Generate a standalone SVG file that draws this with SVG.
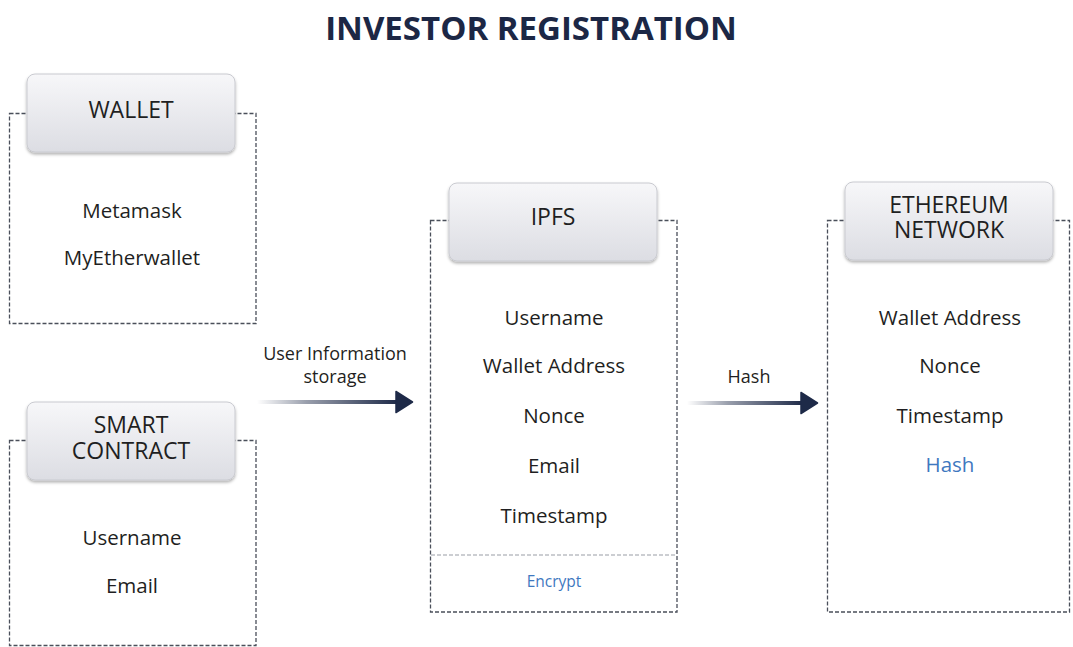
<svg xmlns="http://www.w3.org/2000/svg" width="1073" height="647" viewBox="0 0 1073 647">
  <defs>
    <linearGradient id="hdrGrad" x1="0" y1="0" x2="0" y2="1">
      <stop offset="0" stop-color="#f7f7f9"/>
      <stop offset="1" stop-color="#dcdde3"/>
    </linearGradient>
    <linearGradient id="arrGrad" x1="0" y1="0" x2="1" y2="0">
      <stop offset="0" stop-color="#1e2a48" stop-opacity="0"/>
      <stop offset="0.35" stop-color="#1e2a48" stop-opacity="0.45"/>
      <stop offset="1" stop-color="#1e2a48" stop-opacity="1"/>
    </linearGradient>
    <filter id="shadow" x="-10%" y="-10%" width="120%" height="130%">
      <feDropShadow dx="0" dy="2" stdDeviation="1.5" flood-color="#000" flood-opacity="0.3"/>
    </filter>
  </defs>
  <style>
    .frame { fill: #ffffff; stroke: #4a4f5a; stroke-width: 1.3; stroke-dasharray: 4 2; }
    .sep { fill: none; stroke: #9a9ea6; stroke-width: 1.2; stroke-dasharray: 4 2; }
    .hdr { fill: url(#hdrGrad); stroke: #c9cad0; stroke-width: 1; filter: url(#shadow); }
    .htxt { font-family: "Open Sans", "Liberation Sans", sans-serif; font-size: 23px; fill: #1f1f22; text-anchor: middle; }
    .btxt { font-family: "Open Sans", "Liberation Sans", sans-serif; font-size: 20.5px; fill: #1f1f22; text-anchor: middle; }
    .blue { fill: #3f78bf; }
    .small { font-size: 15.5px; }
    .ltxt { font-family: "Open Sans", "Liberation Sans", sans-serif; font-size: 18px; fill: #1f1f22; text-anchor: middle; }
    .title { font-family: "Open Sans", "Liberation Sans", sans-serif; font-size: 33px; font-weight: bold; fill: #1c2745; text-anchor: middle; }
    .aline { fill: url(#arrGrad); }
    .ahead { fill: #1e2a48; stroke: #1e2a48; stroke-width: 1.5; stroke-linejoin: round; }
  </style>
  <rect width="1073" height="647" fill="#ffffff"/>

  <text class="title" x="531" y="40">INVESTOR REGISTRATION</text>

  <g id="wallet">
    <rect class="frame" x="9.5" y="113.5" width="246.5" height="210"/>
    <rect class="hdr" x="27" y="74" width="208" height="78" rx="8"/>
    <text class="htxt" x="131" y="118">WALLET</text>
    <text class="btxt" x="132" y="218">Metamask</text>
    <text class="btxt" x="132" y="265">MyEtherwallet</text>
  </g>

  <g id="smart-contract">
    <rect class="frame" x="9.5" y="440.5" width="246.5" height="205"/>
    <rect class="hdr" x="27" y="402" width="208" height="78" rx="8"/>
    <text class="htxt" x="131" y="433">SMART<tspan x="131" y="459">CONTRACT</tspan></text>
    <text class="btxt" x="132" y="545">Username</text>
    <text class="btxt" x="132" y="593">Email</text>
  </g>

  <g id="ipfs">
    <rect class="frame" x="430.5" y="220.5" width="246.5" height="391.5"/>
    <line class="sep" x1="431" y1="555" x2="677" y2="555"/>
    <rect class="hdr" x="449" y="183" width="208" height="78" rx="8"/>
    <text class="htxt" x="553" y="225">IPFS</text>
    <text class="btxt" x="554" y="325">Username</text>
    <text class="btxt" x="554" y="373">Wallet Address</text>
    <text class="btxt" x="554" y="423">Nonce</text>
    <text class="btxt" x="554" y="473">Email</text>
    <text class="btxt" x="554" y="523">Timestamp</text>
    <text class="btxt blue small" x="554" y="587">Encrypt</text>
  </g>

  <g id="ethereum-network">
    <rect class="frame" x="827.5" y="220.5" width="242" height="391.5"/>
    <rect class="hdr" x="845" y="182" width="208" height="78" rx="8"/>
    <text class="htxt" x="949" y="213">ETHEREUM<tspan x="949" y="238">NETWORK</tspan></text>
    <text class="btxt" x="950" y="325">Wallet Address</text>
    <text class="btxt" x="950" y="373">Nonce</text>
    <text class="btxt" x="950" y="423">Timestamp</text>
    <text class="btxt blue" x="950" y="472">Hash</text>
  </g>

  <g id="connectors">
    <g id="edge-storage">
      <rect class="aline" x="257" y="400" width="141" height="4"/>
      <polygon class="ahead" points="396,391.5 412.5,402 396,412.5"/>
      <text class="ltxt" x="335" y="360">User Information</text>
      <text class="ltxt" x="335" y="383">storage</text>
    </g>
    <g id="edge-hash">
      <rect class="aline" x="687" y="401" width="116" height="4"/>
      <polygon class="ahead" points="801,392.5 817.5,403 801,413.5"/>
      <text class="ltxt" x="749" y="383">Hash</text>
    </g>
  </g>
</svg>
